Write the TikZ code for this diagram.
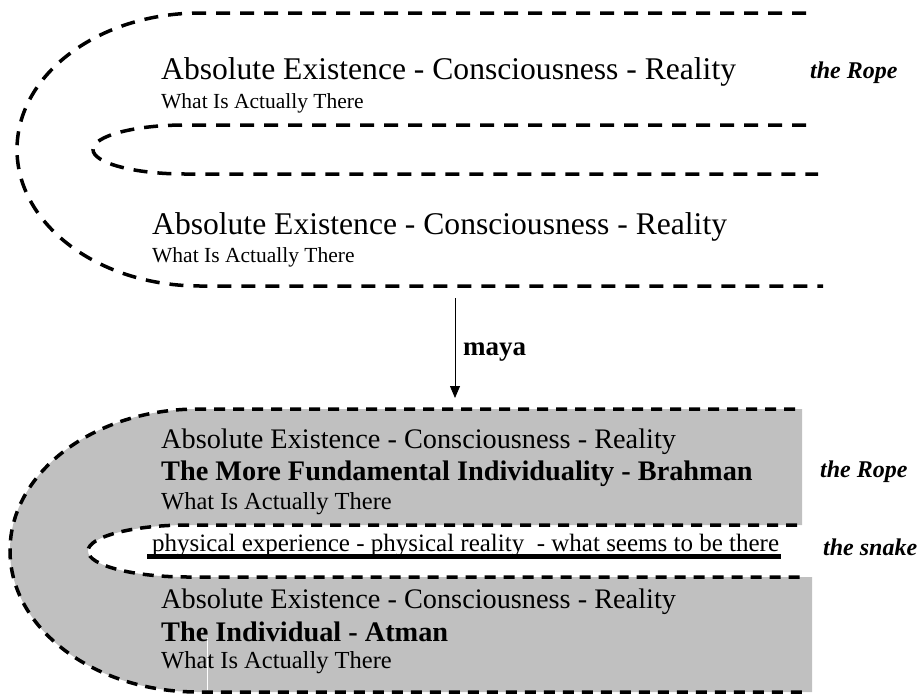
\documentclass[tikz,border=0pt]{standalone}
\usepackage{fontspec}
\setmainfont{Liberation Serif}
\usetikzlibrary{arrows.meta}
\definecolor{ropegray}{HTML}{C0C0C0}

\begin{document}
\begin{tikzpicture}[x=1pt, y=1pt,
      rope/.style={line width=3.5pt, dash pattern=on 14pt off 10pt},
      ropeb/.style={line width=3.5pt, dash pattern=on 11pt off 8pt},
      txt/.style={anchor=base west, inner sep=0pt},
      bigtxt/.style={txt, font=\fontsize{31.6}{36}\selectfont},
      smalltxt/.style={txt, font=\fontsize{21.5}{25}\selectfont},
      midtxt/.style={txt, font=\fontsize{28.3}{33}\selectfont},
      boldtxt/.style={txt, font=\fontsize{28.3}{33}\selectfont\bfseries},
      lowtxt/.style={txt, font=\fontsize{24.5}{29}\selectfont},
      tag/.style={txt, font=\fontsize{24}{29}\selectfont\bfseries\itshape}]
      \useasboundingbox (0,0) rectangle (921,-694);

      % the rope alone
      \draw[rope] (806,-13) -- (200,-13)
        arc[start angle=90, end angle=270, x radius=183, y radius=136.5] -- (823,-286);
      \draw[rope] (806,-125) -- (185,-125)
        arc[start angle=90, end angle=270, x radius=92, y radius=24.5] -- (818,-174);

      \node (aecr1) [bigtxt] at (161,-79) {Absolute Existence - Consciousness - Reality};
      \node (wiat1) [smalltxt] at (161,-108) {What Is Actually There};
      \node (rope1) [tag] at (810,-78) {the Rope};
      \node (aecr2) [bigtxt] at (152,-234) {Absolute Existence - Consciousness - Reality};
      \node (wiat2) [smalltxt] at (152,-262) {What Is Actually There};

      % maya
      \coordinate (mayatop) at (455,-298);
      \coordinate (mayatip) at (455,-398);
      \draw[-{Triangle[length=12pt, width=10pt]}, line width=0.8pt] (mayatop) -- (mayatip);
      \node (maya) [txt, font=\fontsize{27}{32}\selectfont\bfseries] at (463,-355) {maya};

      % the rope seen as the snake
      \fill[ropegray] (802,-409) -- (198,-409)
        arc[start angle=90, end angle=270, x radius=188, y radius=141.5] -- (812,-692)
        -- (812,-577) -- (188,-577)
        arc[start angle=270, end angle=90, x radius=100, y radius=26] -- (802,-525) -- cycle;
      \draw[white, line width=1pt] (207,-638) -- (207,-690);
      \draw[ropeb] (795,-409) -- (198,-409)
        arc[start angle=90, end angle=270, x radius=188, y radius=141.5] -- (808,-692);
      \draw[ropeb] (797,-525) -- (188,-525)
        arc[start angle=90, end angle=270, x radius=100, y radius=26] -- (801,-577);

      \node (aecr3) [midtxt] at (161,-448) {Absolute Existence - Consciousness - Reality};
      \node (brahman) [boldtxt] at (161,-480) {The More Fundamental Individuality - Brahman};
      \node (wiat3) [lowtxt] at (161,-509) {What Is Actually There};
      \node (rope2) [tag] at (820,-477) {the Rope};

      \node (snaketxt) [txt, font=\fontsize{25}{29}\selectfont] at (152,-551)
        {physical experience - physical reality\ \ - what seems to be there};
      \draw[line width=5pt] ([xshift=-5pt, yshift=-5pt]snaketxt.base west)
        -- ([xshift=2pt, yshift=-5pt]snaketxt.base east);
      \node (snake) [tag] at (823,-555) {the snake};

      \node (aecr4) [midtxt] at (161,-608) {Absolute Existence - Consciousness - Reality};
      \node (atman) [boldtxt] at (161,-641) {The Individual - Atman};
      \node (wiat4) [lowtxt] at (161,-668) {What Is Actually There};
    \end{tikzpicture}
\end{document}
